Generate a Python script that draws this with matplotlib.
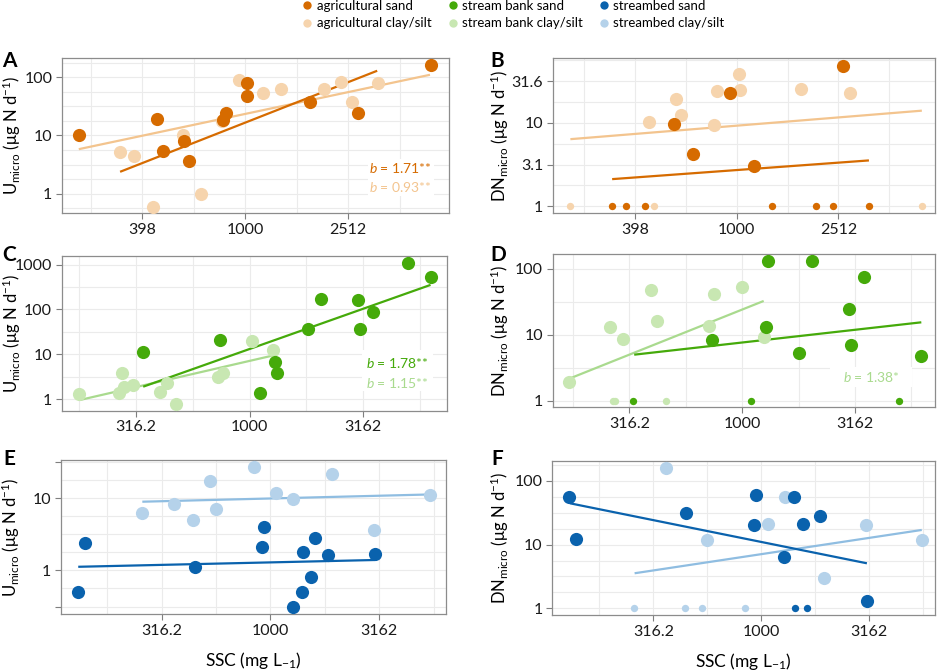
# Microbial N uptake (U) and denitrification (DN) against suspended sediment (SSC)

import numpy as np
import matplotlib
matplotlib.use('Agg')
from matplotlib import pyplot as plt
from matplotlib.ticker import FixedLocator, FixedFormatter, NullFormatter
from matplotlib.lines import Line2D
from matplotlib.patches import Rectangle

plt.rcParams['font.family'] = ['Lato', 'DejaVu Sans']
plt.rcParams['mathtext.fontset'] = 'custom'
plt.rcParams['mathtext.rm'] = 'Lato'
plt.rcParams['mathtext.it'] = 'Lato:italic'

# ---- panel A: agricultural, U_micro ----
a_sand_x = [226, 455, 479, 581, 606, 822, 842, 1019, 1019, 1787, 2754, 5260]
a_sand_y = [10, 19.4, 5.4, 7.9, 3.6, 18.6, 24.6, 78.7, 47.3, 37.8, 24.6, 164]
a_clay_x = [328, 371, 440, 573, 676, 815, 944, 1175, 1380, 2028, 2367, 2596, 3273]
a_clay_y = [5.2, 4.5, 0.59, 10, 1.0, 18, 91, 54, 63.5, 62.6, 82.8, 37.2, 78.7]
a_sand_fit_x = [327, 3258]
a_sand_fit_y = [2.38, 129]
a_clay_fit_x = [226, 5224]
a_clay_fit_y = [5.82, 110]

# ---- panel B: agricultural, DN_micro (small points = below detection, plotted at 1) ----
b_sand_x = [569, 671, 938, 1172, 2617]
b_sand_y = [9.8, 4.26, 22.8, 3.06, 48]
b_clay_x = [452, 577, 603, 817, 838, 1018, 1027, 1791, 2786]
b_clay_y = [10.2, 19.4, 12.4, 9.55, 23.9, 38.2, 24.6, 25.3, 23]
b_sand_nd_x = [324, 366, 436, 1380, 2051, 2399, 3311]
b_sand_nd_y = [1, 1, 1, 1, 1, 1, 1]
b_clay_nd_x = [222, 473, 5350]
b_clay_nd_y = [1, 1, 1]
b_sand_fit_x = [324, 3311]
b_sand_fit_y = [2.12, 3.55]
b_clay_fit_x = [222, 5346]
b_clay_fit_y = [6.38, 14.0]

# ---- panel C: stream bank, U_micro ----
c_sand_x = [338, 740, 1109, 1297, 1318, 1811, 2060, 3006, 3057, 3497, 4969, 6251]
c_sand_y = [11.1, 21, 1.41, 6.7, 3.9, 36.2, 169, 163, 36.8, 86.6, 1069, 521]
c_clay_x = [178, 267, 275, 280, 306, 403, 432, 472, 726, 761, 1020, 1262]
c_clay_y = [1.31, 1.36, 3.86, 1.91, 2.09, 1.48, 2.27, 0.80, 3.09, 3.79, 19.9, 12.6]
c_sand_fit_x = [340, 6252]
c_sand_fit_y = [1.91, 352]
c_clay_fit_x = [179, 1262]
c_clay_fit_y = [0.966, 9.4]

# ---- panel D: stream bank, DN_micro ----
d_sand_x = [733, 1271, 1306, 1786, 2033, 2965, 3036, 3476, 6219]
d_sand_y = [8.25, 13.2, 134, 5.36, 132, 25, 7.09, 74.7, 4.72]
d_clay_x = [171, 260, 297, 393, 421, 711, 748, 1002, 1246]
d_clay_y = [1.90, 13.0, 8.75, 47.4, 16.4, 13.8, 41.7, 52.7, 9.17]
d_sand_nd_x = [329, 1094, 4955]
d_sand_nd_y = [1, 1, 1]
d_clay_nd_x = [267, 272, 459]
d_clay_nd_y = [1, 1, 1]
d_sand_fit_x = [332, 6223]
d_sand_fit_y = [5.0, 15.5]
d_clay_fit_x = [171, 1245]
d_clay_fit_y = [2.16, 32.7]

# ---- panel E: streambed, U_micro ----
e_sand_x = [131, 141, 450, 914, 937, 1265, 1396, 1416, 1536, 1601, 1844, 3022]
e_sand_y = [0.507, 2.41, 1.10, 2.10, 4.02, 0.308, 0.507, 1.81, 0.81, 2.83, 1.61, 1.70]
e_clay_x = [258, 360, 442, 527, 562, 840, 1059, 1273, 1910, 2993, 5411]
e_clay_y = [6.27, 8.18, 4.96, 17.2, 7.05, 26.5, 11.6, 9.69, 21.5, 3.65, 11.0]
e_sand_fit_x = [131, 3020]
e_sand_fit_y = [1.12, 1.39]
e_clay_fit_x = [258, 5408]
e_clay_fit_y = [8.89, 11.2]

# ---- panel F: streambed, DN_micro ----
f_sand_x = [129, 138, 450, 923, 946, 1279, 1419, 1557, 1861, 3085]
f_sand_y = [55.4, 12.1, 31.1, 20.1, 61, 6.48, 55.4, 21.1, 28.2, 1.29]
f_clay_x = [362, 562, 1069, 1285, 1954, 3055, 5539]
f_clay_y = [160, 11.7, 21.1, 55.4, 3.03, 20.4, 11.8]
f_sand_nd_x = [1436, 1625]
f_sand_nd_y = [1, 1]
f_clay_nd_x = [257, 443, 532, 841]
f_clay_nd_y = [1, 1, 1, 1]
f_sand_fit_x = [130, 3083]
f_sand_fit_y = [44.6, 5.09]
f_clay_fit_x = [259, 5534]
f_clay_fit_y = [3.55, 17.0]

legend_labels = ['agricultural sand', 'agricultural clay/silt',
                 'stream bank sand', 'stream bank clay/silt',
                 'streambed sand', 'streambed clay/silt']

# colours: (sand points/line, clay points, clay line)
AG = ('#D66B00', '#F6D4AD', '#F3C48E')
SB = ('#45AA0A', '#C8E7B2', '#A9DA8E')
BED = ('#0A62AD', '#B5D2EA', '#8FBDE1')

GRID = '#ebebeb'
BIG = 90
SMALL = 28


def style_axis(ax, xlim, ylim, xticks, xlabels, xgrid, yticks, ylabels, ygrid):
  ax.set_xscale('log')
  ax.set_yscale('log')
  ax.set_xlim(xlim)
  ax.set_ylim(ylim)
  ax.xaxis.set_major_locator(FixedLocator(xticks))
  ax.xaxis.set_major_formatter(FixedFormatter(xlabels))
  ax.xaxis.set_minor_locator(FixedLocator(xgrid))
  ax.xaxis.set_minor_formatter(NullFormatter())
  ax.yaxis.set_major_locator(FixedLocator(yticks))
  ax.yaxis.set_major_formatter(FixedFormatter(ylabels))
  ax.yaxis.set_minor_locator(FixedLocator(ygrid))
  ax.yaxis.set_minor_formatter(NullFormatter())
  ax.tick_params(which='minor', length=0)
  ax.tick_params(which='major', length=4, width=0.8, color='#7f7f7f',
                 labelsize=11.5, pad=3, labelcolor='#1a1a1a')
  ax.grid(True, which='both', color=GRID, lw=0.8)
  ax.set_axisbelow(True)
  for s in ax.spines.values():
    s.set_color('#8c8c8c')
    s.set_linewidth(0.9)


def draw_panel(ax, cols, sand, clay, sand_fit, clay_fit, sand_nd=None, clay_nd=None):
  ax.plot(clay_fit[0], clay_fit[1], color=cols[2], lw=1.6, zorder=2, solid_capstyle='butt')
  ax.plot(sand_fit[0], sand_fit[1], color=cols[0], lw=1.6, zorder=2, solid_capstyle='butt')
  ax.scatter(clay[0], clay[1], s=BIG, color=cols[1], lw=0, zorder=3)
  ax.scatter(sand[0], sand[1], s=BIG, color=cols[0], lw=0, zorder=4)
  if clay_nd is not None:
    ax.scatter(clay_nd[0], clay_nd[1], s=SMALL, color=cols[1], lw=0, zorder=3)
  if sand_nd is not None:
    ax.scatter(sand_nd[0], sand_nd[1], s=SMALL, color=cols[0], lw=0, zorder=4)


def slope_labels(ax, box, entries):
  # white backing box, then one line of text per fit
  x0, y0, x1, y1 = box
  ax.add_patch(Rectangle((x0, y0), x1 - x0, y1 - y0, transform=ax.transAxes,
                         facecolor='white', edgecolor='none', zorder=5))
  for y, text, color in entries:
    ax.text((x0 + x1) / 2, y, text, transform=ax.transAxes, color=color,
            fontsize=10, ha='center', va='center', zorder=6)


fig = plt.figure(figsize=(9.41, 6.71), dpi=100)

ax_a = fig.add_axes([0.0659, 0.6826, 0.4113, 0.2310])
ax_b = fig.add_axes([0.5874, 0.6826, 0.4063, 0.2310])
ax_c = fig.add_axes([0.0656, 0.3879, 0.4091, 0.2306])
ax_d = fig.add_axes([0.5874, 0.3930, 0.4063, 0.2285])
ax_e = fig.add_axes([0.0648, 0.0849, 0.4091, 0.2295])
ax_f = fig.add_axes([0.5869, 0.0835, 0.4071, 0.2295])

grid02 = 10 ** np.arange(2.2, 3.81, 0.2)
grid025 = 10 ** np.arange(2.0, 4.01, 0.25)
quarter = 10 ** np.arange(-1.0, 3.51, 0.25)
half = 10 ** np.arange(-1.0, 3.51, 0.5)
x_ag = [10 ** 2.6, 1000, 10 ** 3.4]
x_ag_lab = ['398', '1000', '2512']
x_st = [10 ** 2.5, 1000, 10 ** 3.5]
x_st_lab = ['316.2', '1000', '3162']

# A
draw_panel(ax_a, AG, (a_sand_x, a_sand_y), (a_clay_x, a_clay_y),
           (a_sand_fit_x, a_sand_fit_y), (a_clay_fit_x, a_clay_fit_y))
style_axis(ax_a, (10 ** 2.289, 10 ** 3.792), (10 ** -0.33, 10 ** 2.33),
           x_ag, x_ag_lab, grid02, [1, 10, 100], ['1', '10', '100'], quarter)
slope_labels(ax_a, (0.79, 0.11, 0.96, 0.35),
             [(0.29, '$\\mathit{b}$ = 1.71**', AG[0]),
              (0.168, '$\\mathit{b}$ = 0.93**', AG[2])])

# B
draw_panel(ax_b, AG, (b_sand_x, b_sand_y), (b_clay_x, b_clay_y),
           (b_sand_fit_x, b_sand_fit_y), (b_clay_fit_x, b_clay_fit_y),
           (b_sand_nd_x, b_sand_nd_y), (b_clay_nd_x, b_clay_nd_y))
style_axis(ax_b, (10 ** 2.277, 10 ** 3.78), (10 ** -0.079, 10 ** 1.777),
           x_ag, x_ag_lab, grid02, [1, 10 ** 0.5, 10, 10 ** 1.5],
           ['1', '3.1', '10', '31.6'], quarter)

# C
draw_panel(ax_c, SB, (c_sand_x, c_sand_y), (c_clay_x, c_clay_y),
           (c_sand_fit_x, c_sand_fit_y), (c_clay_fit_x, c_clay_fit_y))
style_axis(ax_c, (10 ** 2.173, 10 ** 3.867), (10 ** -0.254, 10 ** 3.19),
           x_st, x_st_lab, grid025, [1, 10, 100, 1000],
           ['1', '10', '100', '1000'], half)
slope_labels(ax_c, (0.78, 0.13, 0.965, 0.39),
             [(0.308, '$\\mathit{b}$ = 1.78**', SB[0]),
              (0.179, '$\\mathit{b}$ = 1.15**', SB[2])])

# D
draw_panel(ax_d, SB, (d_sand_x, d_sand_y), (d_clay_x, d_clay_y),
           (d_sand_fit_x, d_sand_fit_y), (d_clay_fit_x, d_clay_fit_y),
           (d_sand_nd_x, d_sand_nd_y), (d_clay_nd_x, d_clay_nd_y))
style_axis(ax_d, (10 ** 2.160, 10 ** 3.855), (10 ** -0.10, 10 ** 2.228),
           x_st, x_st_lab, grid025, [1, 10, 100], ['1', '10', '100'], half)
slope_labels(ax_d, (0.725, 0.134, 0.94, 0.265),
             [(0.20, '$\\mathit{b}$ = 1.38*', SB[2])])

# E
draw_panel(ax_e, BED, (e_sand_x, e_sand_y), (e_clay_x, e_clay_y),
           (e_sand_fit_x, e_sand_fit_y), (e_clay_fit_x, e_clay_fit_y))
style_axis(ax_e, (10 ** 2.038, 10 ** 3.806), (10 ** -0.604, 10 ** 1.525),
           x_st, x_st_lab, grid025, [10 ** -0.5, 1, 10, 10 ** 1.5],
           ['', '1', '10', ''], quarter)

# F
draw_panel(ax_f, BED, (f_sand_x, f_sand_y), (f_clay_x, f_clay_y),
           (f_sand_fit_x, f_sand_fit_y), (f_clay_fit_x, f_clay_fit_y),
           (f_sand_nd_x, f_sand_nd_y), (f_clay_nd_x, f_clay_nd_y))
style_axis(ax_f, (10 ** 2.032, 10 ** 3.806), (10 ** -0.105, 10 ** 2.314),
           x_st, x_st_lab, grid025, [1, 10, 100], ['1', '10', '100'], quarter)

# axis titles
u_label = 'U$_{\\mathrm{micro}}$ (μg N d$^{\\mathrm{-1}}$)'
dn_label = 'DN$_{\\mathrm{micro}}$ (μg N d$^{\\mathrm{-1}}$)'
for ax in (ax_a, ax_c, ax_e):
  ax.set_ylabel(u_label, fontsize=12)
  ax.yaxis.set_label_coords(-0.1, 0.5)
for ax in (ax_b, ax_d, ax_f):
  ax.set_ylabel(dn_label, fontsize=12)
  ax.yaxis.set_label_coords(-0.108, 0.5)
for ax in (ax_e, ax_f):
  ax.set_xlabel('SSC (mg L$_{\\mathrm{-1}}$)', fontsize=12.5)
  ax.xaxis.set_label_coords(0.5, -0.235)

# panel letters
for letter, x, y in [('A', 2, 67), ('B', 490, 67), ('C', 2, 261),
                     ('D', 490, 261), ('E', 3, 465), ('F', 491, 465)]:
  fig.text(x / 941, 1 - y / 671, letter, fontsize=15, fontweight='bold',
           ha='left', va='baseline')

# legend
cols = [AG[0], AG[1], SB[0], SB[1], BED[0], BED[1]]
handles = [Line2D([], [], ls='none', marker='o', ms=6, mec='none', mfc=c) for c in cols]
fig.legend(handles, legend_labels, ncol=3, loc='upper center',
           bbox_to_anchor=(0.544, 1.012), frameon=False, fontsize=9.5,
           handletextpad=0.1, columnspacing=1.0, labelspacing=0.4,
           handlelength=1.2, borderaxespad=0.2)

fig.savefig('out.png', dpi=100)
